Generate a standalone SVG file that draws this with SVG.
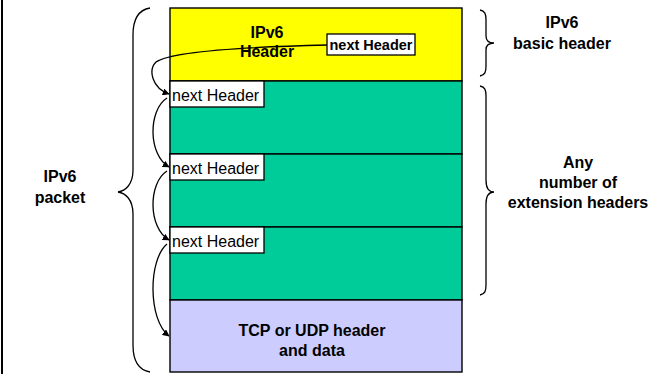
<svg xmlns="http://www.w3.org/2000/svg" width="651" height="374" viewBox="0 0 651 374">
<style>
.blk{stroke:#000;stroke-width:1.4}
.nh{fill:#fff;stroke:#000;stroke-width:1.3}
.t{font-family:"Liberation Sans",Arial,sans-serif;fill:#000}
.b{font-weight:bold;font-size:16px;text-anchor:middle}
.nt{font-size:16px}
.conn{fill:none;stroke:#000;stroke-width:1.3}
.brace{fill:none;stroke:#000;stroke-width:1.3}
</style>
<defs>
<marker id="ah" viewBox="0 0 10 10" refX="9" refY="5" markerWidth="7" markerHeight="7" markerUnits="userSpaceOnUse" orient="auto">
<path d="M0,0 L10,5 L0,10 z" fill="#000"/>
</marker>
</defs>
<rect x="0" y="0" width="651" height="374" fill="#fff"/>
<line x1="2" y1="0" x2="2" y2="374" stroke="#000" stroke-width="2"/>

<g id="ipv6-header">
<rect x="170" y="8" width="292" height="73" fill="#FFFF00" class="blk"/>
<text class="t b" x="267" y="38">IPv6</text>
<text class="t b" x="267" y="57">Header</text>
<rect x="327" y="34" width="88" height="21" class="nh"/>
<text class="t" x="371" y="50" font-size="14.5px" font-weight="bold" text-anchor="middle">next Header</text>
</g>
<g id="ext1">
<rect x="170" y="81" width="292" height="73" fill="#00CC99" class="blk"/>
<rect x="170" y="81" width="94" height="26" class="nh"/>
<text class="t nt" x="172" y="101">next Header</text>
</g>
<g id="ext2">
<rect x="170" y="154" width="292" height="73" fill="#00CC99" class="blk"/>
<rect x="170" y="154" width="94" height="26" class="nh"/>
<text class="t nt" x="172" y="174">next Header</text>
</g>
<g id="ext3">
<rect x="170" y="227" width="292" height="73" fill="#00CC99" class="blk"/>
<rect x="170" y="227" width="94" height="26" class="nh"/>
<text class="t nt" x="172" y="247">next Header</text>
</g>
<g id="tcp-udp">
<rect x="170" y="300" width="292" height="72" fill="#CCCCFF" class="blk"/>
<text class="t b" x="312" y="336">TCP or UDP header</text>
<text class="t b" x="312" y="356">and data</text>
</g>

<g id="connectors">
<path class="conn" marker-end="url(#ah)" d="M327,45 C240,47 170,52 156,62 C148,70 152,88 169,94"/>
<path class="conn" marker-end="url(#ah)" d="M167,98 C148,110 148,155 169,167"/>
<path class="conn" marker-end="url(#ah)" d="M167,171 C148,183 148,228 169,240"/>
<path class="conn" marker-end="url(#ah)" d="M167,244 C148,260 148,320 169,336"/>
</g>

<g id="brace-packet">
<path class="brace" d="M150,8 C138,10 133,20 133,35 L133,170 C133,185 125,191 118,192 C125,193 133,199 133,214 L133,345 C133,360 138,370 150,372"/>
<text class="t b" x="60" y="182">IPv6</text>
<text class="t b" x="60" y="203">packet</text>
</g>
<g id="brace-basic">
<path class="brace" d="M480,10 C485,11 486,14 486,20 L486,36 C486,41 489,43 494,43 C489,43 486,45 486,50 L486,66 C486,72 485,75 480,76"/>
<text class="t b" x="562" y="28">IPv6</text>
<text class="t b" x="562" y="49">basic header</text>
</g>
<g id="brace-ext">
<path class="brace" d="M480,86 C485,87 486,90 486,96 L486,180 C486,188 489,192 494,192 C489,192 486,196 486,204 L486,285 C486,291 485,294 480,295"/>
<text class="t b" x="578" y="168">Any</text>
<text class="t b" x="578" y="188">number of</text>
<text class="t b" x="578" y="208">extension headers</text>
</g>
</svg>
